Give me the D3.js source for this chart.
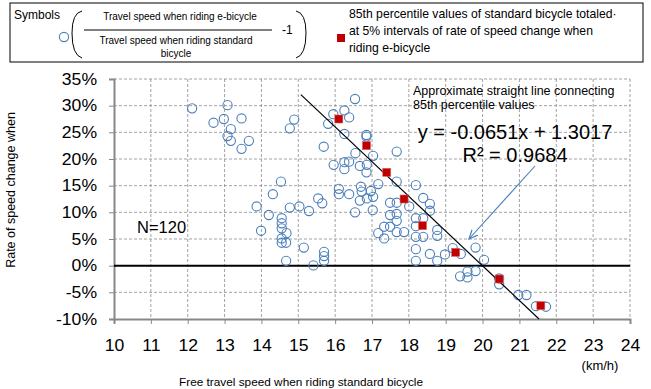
<!DOCTYPE html>
<html><head><meta charset="utf-8">
<script src="https://cdnjs.cloudflare.com/ajax/libs/d3/7.8.5/d3.min.js"></script>
<style>
body{margin:0;background:#fff;}
svg{display:block;font-family:"Liberation Sans",Arial,sans-serif;}
</style></head><body>
<svg id="c" width="651" height="389"></svg>
<script>
// Free travel speed (km/h) when riding standard bicycle
const speedStd = [
12.12,13.08,12.70,12.98,13.46,13.17,13.08,13.17,13.66,13.46,
16.54,16.25,15.95,16.38,14.89,14.77,15.81,16.25,16.85,16.85,
15.69,17.67,17.03,16.55,15.96,16.25,16.38,16.25,16.67,16.86,
16.85,17.67,14.53,18.19,17.17,14.31,16.70,16.97,16.72,16.10,
16.10,16.38,15.54,16.86,17.03,18.39,16.67,
13.87,14.20,14.77,15.03,15.29,15.65,14.55,14.55,14.55,13.99,
14.68,14.55,14.55,14.67,15.15,15.70,15.70,15.70,14.67,15.41,
16.54,17.02,17.49,17.67,18.01,17.49,17.67,17.67,18.19,18.39,
18.57,18.57,18.19,17.33,17.49,17.17,17.33,17.67,17.87,18.19,
18.39,18.77,18.77,18.19,18.57,18.19,18.77,18.98,
19.19,19.41,19.81,20.04,19.39,19.59,19.59,19.81,20.45,20.45,
20.97,21.19,21.45,21.72
];
// Rate of speed change when riding e-bicycle (%)
const rateChange = [
29.5,30.1,26.8,27.5,27.6,25.6,24.3,23.4,23.4,21.9,
31.25,29.1,28.4,27.8,27.4,25.75,26.6,24.7,24.5,24.2,
22.3,21.4,20.6,21.1,18.9,19.4,19.5,18.1,18.7,18.9,
17.5,15.75,15.75,15.1,15.3,13.4,14.8,14.0,13.9,14.4,
13.4,13.4,12.6,12.6,12.9,12.7,12.2,
11.1,9.5,10.9,11.1,10.25,11.7,8.9,7.95,7.0,6.55,
6.1,5.1,4.3,4.3,3.4,2.6,1.8,0.9,0.9,0.05,
10.0,10.4,11.8,11.8,11.1,9.5,9.7,8.4,8.9,8.9,
11.6,10.3,7.4,7.3,7.3,6.1,5.1,6.3,6.3,5.4,
5.4,6.7,5.6,3.1,2.2,0.9,0.9,2.1,
3.3,2.2,3.4,1.1,-2.0,-2.2,-1.1,-1.0,-2.4,-3.5,
-5.5,-5.5,-7.6,-7.7
];
// 85th percentile values (red squares)
const p85Speed = [16.10,16.85,17.40,17.87,18.37,19.27,20.45,21.58];
const p85Rate  = [27.5,22.5,17.5,12.5,7.5,2.5,-2.5,-7.5];
// regression y = -0.0651x + 1.3017
const slope = -0.0651, intercept = 1.3017;
const lineStartX = 15.07;
const xTicks = [10,11,12,13,14,15,16,17,18,19,20,21,22,23,24];
const yTicks = [-10,-5,0,5,10,15,20,25,30,35];

const svg = d3.select("#c");
const L=114, R=630, T=79, B=319;
const x = d3.scaleLinear().domain([10,24]).range([L,R]);
const y = d3.scaleLinear().domain([-10,35]).range([B,T]);
const SX = 1.1;

// grid
const g = svg.append("g");
g.selectAll(".vg").data(xTicks.slice(1)).join("line")
  .attr("x1",d=>x(d)).attr("x2",d=>x(d)).attr("y1",T).attr("y2",B)
  .attr("stroke","#8c8c8c").attr("stroke-width",0.8).attr("stroke-dasharray","3,2");
g.selectAll(".hg").data(yTicks.filter(d=>d!==-10 && d!==0)).join("line")
  .attr("x1",L).attr("x2",R).attr("y1",d=>y(d)).attr("y2",d=>y(d))
  .attr("stroke","#8c8c8c").attr("stroke-width",0.8).attr("stroke-dasharray","3,2");

// axes
const xAxis = d3.axisBottom(x).tickValues(xTicks).tickSize(5).tickFormat(d=>d);
const ax = svg.append("g").attr("transform",`translate(0,${B})`).call(xAxis);
ax.select(".domain").attr("stroke","#888").attr("stroke-width",2);
ax.selectAll(".tick line").attr("stroke","#888");
ax.selectAll("text").attr("font-size",16).attr("fill","#000").attr("dy","24px")
  .attr("transform",`scale(${SX},1)`)
  .attr("font-family","'Liberation Sans',Arial,sans-serif");

const yAxis = d3.axisLeft(y).tickValues(yTicks).tickSize(5).tickFormat(d=>d+"%");
const ay = svg.append("g").attr("transform",`translate(${L},0)`).call(yAxis);
ay.select(".domain").attr("stroke","#888").attr("stroke-width",2);
ay.selectAll(".tick line").attr("stroke","#888");
ay.selectAll("text").attr("font-size",16).attr("fill","#000").attr("x",-17/SX)
  .attr("transform",`scale(${SX},1)`)
  .attr("font-family","'Liberation Sans',Arial,sans-serif");

// zero line
svg.append("line").attr("x1",L).attr("x2",R).attr("y1",y(0)).attr("y2",y(0))
  .attr("stroke","#000").attr("stroke-width",2);

// circles
svg.append("g").selectAll("circle").data(speedStd).join("circle")
  .attr("cx",d=>x(d)).attr("cy",(d,i)=>y(rateChange[i])).attr("r",4.6)
  .attr("fill","none").attr("stroke","#4a7ebb").attr("stroke-width",1.1);

// regression line
const xEnd = (-0.10 - intercept)/slope;
svg.append("line")
  .attr("x1",x(lineStartX)).attr("y1",y((slope*lineStartX+intercept)*100))
  .attr("x2",x(xEnd)).attr("y2",y(-10))
  .attr("stroke","#000").attr("stroke-width",1.2);

// red squares
svg.append("g").selectAll("rect").data(p85Speed).join("rect")
  .attr("x",d=>x(d)-4).attr("y",(d,i)=>y(p85Rate[i])-4).attr("width",8).attr("height",8)
  .attr("fill","#c00000").attr("stroke","#e06060").attr("stroke-width",0.6);

// annotations
svg.append("text").attr("x",137).attr("y",233).attr("font-size",16.5).text("N=120");
svg.append("text").attr("x",413).attr("y",95).attr("font-size",12.5).text("Approximate straight line connecting");
svg.append("text").attr("x",413).attr("y",109).attr("font-size",12.5).text("85th percentile values");
svg.append("text").attr("x",515).attr("y",138.5).attr("font-size",20).attr("text-anchor","middle").text("y = -0.0651x + 1.3017");
svg.append("text").attr("x",515).attr("y",162).attr("font-size",20).attr("text-anchor","middle").text("R² = 0.9684");

// arrow
svg.append("defs").append("marker").attr("id","ah").attr("viewBox","0 0 10 10")
  .attr("refX",9).attr("refY",5).attr("markerWidth",9).attr("markerHeight",9).attr("orient","auto")
  .append("path").attr("d","M0,1 L9,5 L0,9").attr("fill","none").attr("stroke","#4a7ebb").attr("stroke-width",1.2);
svg.append("line").attr("x1",535).attr("y1",166).attr("x2",469).attr("y2",239)
  .attr("stroke","#4a7ebb").attr("stroke-width",1.1).attr("marker-end","url(#ah)");

// axis titles
svg.append("text").attr("x",600).attr("y",370).attr("font-size",13).attr("text-anchor","middle").text("(km/h)");
svg.append("text").attr("x",301).attr("y",386).attr("font-size",11.8).attr("text-anchor","middle").text("Free travel speed when riding standard bicycle");
svg.append("text").attr("transform","translate(15,190) rotate(-90)").attr("font-size",12.5)
  .attr("text-anchor","middle").text("Rate of speed change when");

// legend box
const lg = svg.append("g");
lg.append("rect").attr("x",10).attr("y",3).attr("width",633).attr("height",59)
  .attr("fill","#fff").attr("stroke","#000").attr("stroke-width",1);
lg.append("text").attr("x",14).attr("y",19).attr("font-size",12).text("Symbols");
lg.append("circle").attr("cx",64).attr("cy",37).attr("r",4.6).attr("fill","none").attr("stroke","#4a7ebb").attr("stroke-width",1.1);
lg.append("path").attr("d","M82,11 Q72,13 72,33 Q72,55 82,58").attr("fill","none").attr("stroke","#000").attr("stroke-width",1);
lg.append("path").attr("d","M296,11 Q306,13 306,33 Q306,55 296,58").attr("fill","none").attr("stroke","#000").attr("stroke-width",1);
lg.append("text").attr("x",180).attr("y",20).attr("font-size",10).attr("text-anchor","middle").text("Travel speed when riding e-bicycle");
lg.append("line").attr("x1",84).attr("x2",272).attr("y1",30).attr("y2",30).attr("stroke","#000").attr("stroke-width",1);
lg.append("text").attr("x",282).attr("y",34).attr("font-size",12).text("-1");
lg.append("text").attr("x",176).attr("y",44).attr("font-size",10).attr("text-anchor","middle").text("Travel speed when riding standard");
lg.append("text").attr("x",176).attr("y",57).attr("font-size",10).attr("text-anchor","middle").text("bicycle");
lg.append("rect").attr("x",337).attr("y",34).attr("width",8).attr("height",8).attr("fill","#c00000");
lg.append("text").attr("x",349).attr("y",18).attr("font-size",12.2).text("85th percentile values of standard bicycle totaled\u00b7");
lg.append("text").attr("x",349).attr("y",35).attr("font-size",12.2).text("at 5% intervals of rate of speed change when");
lg.append("text").attr("x",349).attr("y",52).attr("font-size",12.2).text("riding e-bicycle");
</script></body></html>
